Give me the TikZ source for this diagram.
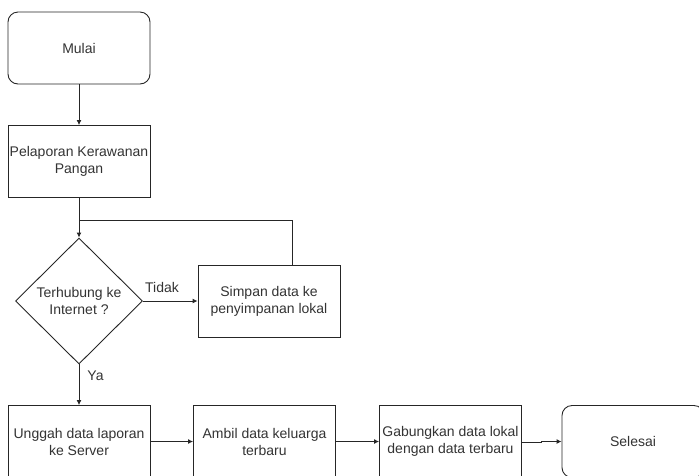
\documentclass[tikz,border=0pt]{standalone}
\usepackage{fontspec}
\setmainfont{Liberation Sans}
\usetikzlibrary{shapes.geometric,arrows.meta}
\begin{document}
\begin{tikzpicture}[x=1pt,y=-1pt,
  font=\fontsize{14}{17}\selectfont,
  every node/.style={text=black!80},
  flowbox/.style={draw=black!85,line width=0.9pt,minimum width=142pt,minimum height=72pt,align=center,inner sep=0pt},
  terminal/.style={flowbox,rounded corners=10pt},
  decision/.style={draw=black!85,line width=0.9pt,diamond,minimum width=127pt,minimum height=126pt,inner sep=0pt,align=center},
  link/.style={draw=black!85,line width=0.9pt,-{Latex[length=5pt,width=5pt]}},
  tag/.style={inner sep=0pt}]
\clip (0,0) rectangle (699,475);
\useasboundingbox (0,0) rectangle (699,475);

% start, report and decision
\node[terminal] (start) at (79,48) {Mulai};
\node[flowbox] (report) at (79,161.5) {Pelaporan Kerawanan\\Pangan};
\node[decision] (online) at (79,301) {Terhubung ke\\Internet ?};
\node[flowbox] (store) at (269,301) {Simpan data ke\\penyimpanan lokal};

% bottom row
\node[flowbox] (upload) at (79,441.5) {Unggah data laporan\\ke Server};
\node[flowbox] (fetch) at (264.5,441.5) {Ambil data keluarga\\terbaru};
\node[flowbox] (merge) at (450.5,441.5) {Gabungkan data lokal\\dengan data terbaru};
\node[terminal] (finish) at (633,441.5) {Selesai};

% loop-back point above the decision
\coordinate (join) at (79,220.5);
\coordinate (loopup) at (292,220.5);

\draw[link] (start) -- (report);
\draw[link] (report) -- (online);
\draw[link] (online) -- node[tag,pos=0.35,above=8pt] {Tidak} (store);
\draw[draw=black!85,line width=0.9pt] (store.north -| loopup) -- (loopup) -- (join);
\draw[link] (online) -- node[tag,pos=0.28,right=8pt] {Ya} (upload);
\draw[link] (upload) -- (fetch);
\draw[link] (fetch) -- (merge);
\coordinate (jog) at (541,442.5);
\draw[link] ([yshift=-1pt]merge.east) -- (jog) -- (jog |- finish.west) -- (finish);
\end{tikzpicture}
\end{document}
